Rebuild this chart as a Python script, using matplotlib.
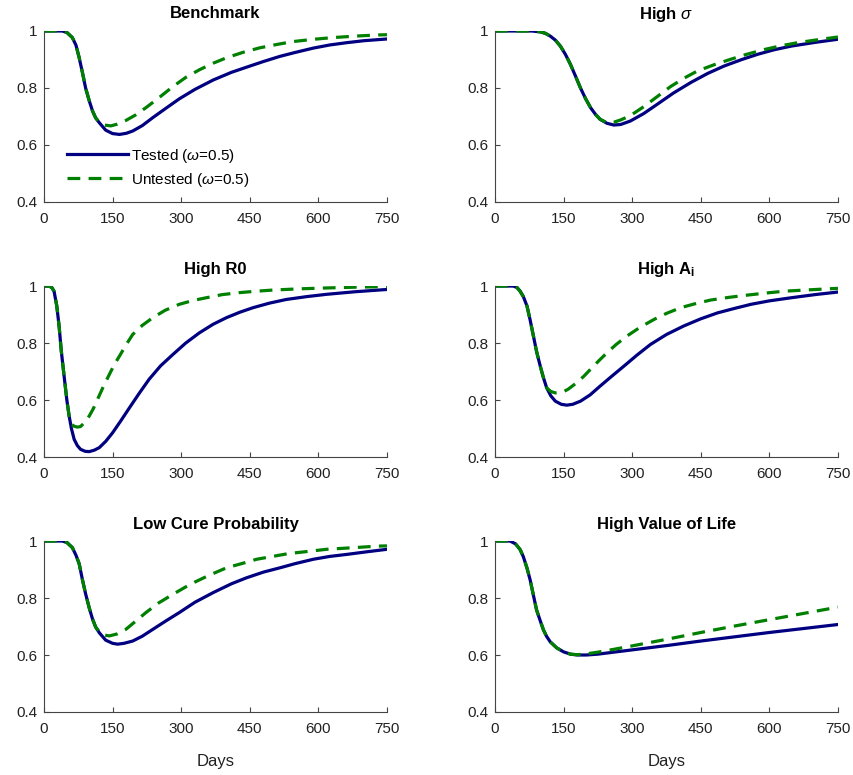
import matplotlib
matplotlib.use("Agg")
import matplotlib.pyplot as plt

plt.rcParams['font.family'] = ['Liberation Sans', 'DejaVu Sans']
plt.rcParams['mathtext.fontset'] = 'custom'
plt.rcParams['mathtext.rm'] = 'Liberation Sans'
plt.rcParams['mathtext.it'] = 'Liberation Sans:italic'
plt.rcParams['mathtext.bf'] = 'Liberation Sans:bold'

# Benchmark
bench_t_days = [0, 40, 50, 62, 70, 77, 84, 91, 99, 106, 113, 121, 135, 150, 165, 180, 194, 215, 238, 265,
                296, 330, 370, 410, 443, 480, 516, 550, 589, 625, 662, 700, 750]
bench_t_vals = [1, 1, 0.995, 0.977, 0.95, 0.906, 0.855, 0.80, 0.755, 0.72, 0.695, 0.678, 0.652, 0.640, 0.637,
                0.641, 0.649, 0.668, 0.696, 0.727, 0.762, 0.795, 0.828, 0.855, 0.873, 0.893, 0.911, 0.925,
                0.940, 0.951, 0.959, 0.966, 0.972]
bench_u_days = [0, 40, 50, 62, 70, 77, 84, 91, 99, 106, 113, 121, 132, 146, 160, 179, 200, 223, 250, 282,
                310, 340, 370, 399, 435, 472, 510, 545, 590, 633, 680, 728, 750]
bench_u_vals = [1, 1, 0.995, 0.977, 0.95, 0.906, 0.855, 0.80, 0.755, 0.72, 0.695, 0.680, 0.670, 0.667, 0.673,
                0.686, 0.705, 0.731, 0.764, 0.805, 0.837, 0.864, 0.887, 0.906, 0.925, 0.941, 0.953, 0.963,
                0.971, 0.977, 0.982, 0.986, 0.987]

# High sigma
sig_t_days = [0, 80, 99, 110, 121, 132, 143, 154, 165, 176, 187, 198, 209, 220, 230, 245, 260, 275, 296, 325,
              355, 390, 428, 465, 501, 540, 574, 610, 648, 700, 750]
sig_t_vals = [1, 1, 0.997, 0.992, 0.982, 0.968, 0.947, 0.918, 0.883, 0.842, 0.80, 0.763, 0.731, 0.707, 0.69,
              0.676, 0.670, 0.672, 0.684, 0.71, 0.743, 0.782, 0.819, 0.851, 0.877, 0.900, 0.918, 0.934,
              0.947, 0.960, 0.971]
sig_u_days = [0, 80, 99, 110, 121, 132, 143, 154, 165, 176, 187, 198, 209, 220, 230, 245, 260, 275, 296, 326,
              355, 384, 413, 443, 480, 516, 550, 589, 625, 662, 700, 750]
sig_u_vals = [1, 1, 0.997, 0.992, 0.982, 0.968, 0.947, 0.918, 0.883, 0.842, 0.80, 0.763, 0.731, 0.707, 0.69,
              0.678, 0.680, 0.688, 0.703, 0.735, 0.770, 0.805, 0.834, 0.860, 0.882, 0.901, 0.918, 0.935,
              0.948, 0.959, 0.968, 0.979]

# High R0
r0_t_days = [0, 11, 17, 22, 28, 33, 38, 44, 50, 55, 60, 66, 73, 80, 90, 99, 110, 121, 135, 150, 168, 187,
             208, 230, 255, 282, 310, 340, 370, 399, 428, 457, 493, 530, 575, 618, 680, 750]
r0_t_vals = [1, 1, 0.995, 0.982, 0.93, 0.86, 0.77, 0.684, 0.60, 0.544, 0.50, 0.462, 0.44, 0.427, 0.420,
             0.419, 0.424, 0.433, 0.455, 0.485, 0.527, 0.573, 0.623, 0.673, 0.72, 0.760, 0.800, 0.836,
             0.866, 0.889, 0.908, 0.924, 0.940, 0.953, 0.963, 0.971, 0.980, 0.988]
r0_u_days = [0, 11, 17, 22, 28, 33, 38, 44, 50, 55, 60, 66, 73, 80, 88, 99, 108, 117, 130, 143, 154, 165,
             180, 194, 215, 238, 265, 296, 325, 355, 390, 428, 465, 501, 555, 611, 680, 750]
r0_u_vals = [1, 1, 0.995, 0.982, 0.93, 0.86, 0.77, 0.684, 0.60, 0.544, 0.515, 0.508, 0.505, 0.507, 0.520,
             0.544, 0.57, 0.602, 0.648, 0.69, 0.725, 0.754, 0.795, 0.83, 0.862, 0.889, 0.915, 0.936,
             0.949, 0.959, 0.970, 0.977, 0.982, 0.986, 0.990, 0.993, 0.996, 0.998]

# High A_i
ai_t_days = [0, 40, 48, 55, 62, 70, 77, 84, 91, 99, 106, 113, 122, 132, 145, 157, 170, 187, 208, 230, 255,
             282, 310, 340, 375, 413, 450, 487, 525, 560, 600, 648, 700, 750]
ai_t_vals = [1, 1, 0.995, 0.982, 0.963, 0.93, 0.88, 0.825, 0.77, 0.719, 0.678, 0.643, 0.615, 0.596, 0.585,
             0.582, 0.585, 0.596, 0.618, 0.649, 0.683, 0.719, 0.757, 0.795, 0.830, 0.860, 0.885, 0.906,
             0.922, 0.936, 0.948, 0.959, 0.970, 0.979]
ai_u_days = [0, 40, 48, 55, 62, 70, 77, 84, 91, 99, 106, 113, 122, 132, 146, 160, 179, 194, 209, 226, 245,
             265, 289, 318, 348, 375, 406, 440, 472, 510, 545, 590, 633, 690, 750]
ai_u_vals = [1, 1, 0.995, 0.982, 0.963, 0.93, 0.88, 0.825, 0.77, 0.719, 0.678, 0.643, 0.630, 0.625, 0.626,
             0.638, 0.661, 0.683, 0.708, 0.736, 0.766, 0.795, 0.825, 0.856, 0.883, 0.904, 0.924, 0.939,
             0.951, 0.960, 0.967, 0.975, 0.982, 0.987, 0.992]

# Low cure probability
cure_t_days = [0, 40, 50, 62, 70, 77, 84, 91, 99, 106, 113, 121, 135, 150, 161, 175, 194, 215, 238, 265,
               296, 330, 370, 410, 443, 480, 516, 550, 589, 625, 662, 700, 750]
cure_t_vals = [1, 1, 0.995, 0.977, 0.95, 0.92, 0.865, 0.815, 0.765, 0.727, 0.698, 0.678, 0.652, 0.641, 0.638,
               0.641, 0.649, 0.666, 0.690, 0.718, 0.749, 0.785, 0.819, 0.850, 0.871, 0.891, 0.906, 0.921,
               0.936, 0.946, 0.953, 0.961, 0.971]
cure_u_days = [0, 40, 50, 62, 70, 77, 84, 91, 99, 106, 113, 121, 132, 143, 160, 179, 200, 223, 250, 282,
               310, 330, 360, 399, 435, 465, 500, 535, 580, 618, 680, 728, 750]
cure_u_vals = [1, 1, 0.995, 0.977, 0.95, 0.92, 0.865, 0.815, 0.765, 0.727, 0.698, 0.682, 0.670, 0.667, 0.674,
               0.690, 0.718, 0.749, 0.782, 0.813, 0.839, 0.856, 0.879, 0.906, 0.922, 0.936, 0.946, 0.956,
               0.964, 0.971, 0.977, 0.982, 0.983]

# High value of life
vol_t_days = [0, 33, 45, 55, 62, 70, 77, 84, 91, 99, 106, 113, 121, 135, 150, 165, 180, 200, 225, 260, 300,
              375, 450, 525, 600, 675, 750]
vol_t_vals = [1, 1, 0.99, 0.97, 0.945, 0.905, 0.863, 0.81, 0.758, 0.72, 0.688, 0.665, 0.646, 0.625, 0.611,
              0.603, 0.60, 0.600, 0.603, 0.61, 0.618, 0.633, 0.649, 0.664, 0.679, 0.693, 0.707]
vol_u_days = [0, 33, 45, 55, 62, 70, 77, 84, 91, 99, 106, 113, 121, 135, 150, 165, 180, 200, 225, 260, 300,
              375, 450, 525, 600, 675, 750]
vol_u_vals = [1, 1, 0.99, 0.97, 0.945, 0.905, 0.863, 0.81, 0.758, 0.72, 0.688, 0.665, 0.646, 0.625, 0.611,
              0.603, 0.601, 0.604, 0.610, 0.620, 0.632, 0.655, 0.679, 0.702, 0.724, 0.746, 0.768]

titles = ['Benchmark', r'High $\mathit{\sigma}$', 'High R0', r'High A$_\mathbf{i}$',
          'Low Cure Probability', 'High Value of Life']
tested = [(bench_t_days, bench_t_vals), (sig_t_days, sig_t_vals), (r0_t_days, r0_t_vals),
          (ai_t_days, ai_t_vals), (cure_t_days, cure_t_vals), (vol_t_days, vol_t_vals)]
untested = [(bench_u_days, bench_u_vals), (sig_u_days, sig_u_vals), (r0_u_days, r0_u_vals),
            (ai_u_days, ai_u_vals), (cure_u_days, cure_u_vals), (vol_u_days, vol_u_vals)]
xticks = [0, 150, 300, 450, 600, 750]
yticks = [0.4, 0.6, 0.8, 1]
yticklabels = ['0.4', '0.6', '0.8', '1']

navy = '#000080'
green = '#008000'

fig = plt.figure(figsize=(8.54, 7.75), dpi=100)
lefts = [0.0515, 0.5796]
bottoms = [0.7394, 0.4103, 0.0813]
w, h = 0.4016, 0.2206

for i in range(6):
    row, col = i // 2, i % 2
    ax = fig.add_axes([lefts[col], bottoms[row], w, h])
    ax.plot(tested[i][0], tested[i][1], color=navy, lw=2.3, label=r'Tested ($\omega$=0.5)')
    ax.plot(untested[i][0], untested[i][1], color=green, lw=2.3, dashes=(4, 2.6),
            label=r'Untested ($\omega$=0.5)')
    ax.set_xlim(0, 750)
    ax.set_ylim(0.4, 1)
    ax.set_xticks(xticks)
    ax.set_yticks(yticks)
    ax.set_yticklabels(yticklabels)
    ax.spines['top'].set_visible(False)
    ax.spines['right'].set_visible(False)
    for s in ['left', 'bottom']:
        ax.spines[s].set_color('#444444')
        ax.spines[s].set_linewidth(0.8)
    ax.tick_params(direction='in', length=3.5, width=0.8, color='#444444', labelsize=11,
                   labelcolor='#222222')
    ax.tick_params(axis='x', pad=7)
    ax.tick_params(axis='y', pad=5)
    ax.set_title(titles[i], fontsize=12, fontweight='bold', pad=9)
    if row == 2:
        ax.set_xlabel('Days', fontsize=12, color='#222222', labelpad=13)
    if i == 0:
        ax.legend(loc='upper left', bbox_to_anchor=(0.05, 0.36), frameon=False, fontsize=11,
                  handlelength=4.0, handletextpad=0.15, labelspacing=0.4, borderaxespad=0)

fig.savefig('out.png', dpi=100)
